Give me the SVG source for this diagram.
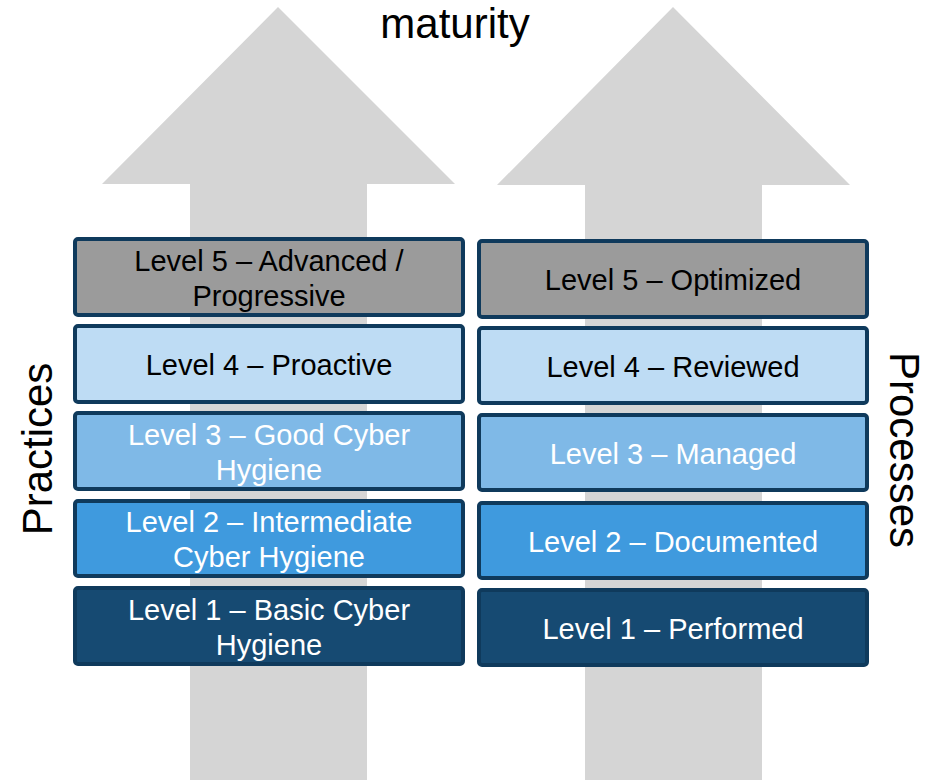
<svg xmlns="http://www.w3.org/2000/svg" width="932" height="780" viewBox="0 0 932 780">
<style>
.arrow{fill:#d5d5d5}
.box{stroke:#0f3a5c;stroke-width:4}
.l5{fill:#9b9b9b}.l4{fill:#bedcf4}.l3{fill:#7fb9e7}.l2{fill:#3f9ade}.l1{fill:#164a72}
text{font-family:"Liberation Sans",Arial,sans-serif;text-anchor:middle}
.t{font-size:29px}
.dk{fill:#000}.wt{fill:#fff}
.big{font-size:42px;fill:#000}
</style>
<rect width="932" height="780" fill="#fff"/>
<g id="arrows">
<polygon class="arrow" points="278,7 455,184 367,184 367,780 190,780 190,184 102,184"/>
<polygon class="arrow" points="673,7 850,185 762,185 762,780 585,780 585,185 497,185"/>
</g>
<text class="big" x="455" y="38">maturity</text>
<text class="big" transform="translate(52,449) rotate(-90)">Practices</text>
<text class="big" transform="translate(890,450) rotate(90)">Processes</text>
<g id="p5"><rect class="box l5" x="75" y="239" width="388" height="76" rx="3"/>
<text class="t dk" x="269" y="271">Level 5 – Advanced /</text><text class="t dk" x="269" y="306">Progressive</text></g>
<g id="p4"><rect class="box l4" x="75" y="326" width="388" height="76" rx="3"/>
<text class="t dk" x="269" y="375">Level 4 – Proactive</text></g>
<g id="p3"><rect class="box l3" x="75" y="413" width="388" height="76" rx="3"/>
<text class="t wt" x="269" y="445">Level 3 – Good Cyber</text><text class="t wt" x="269" y="480">Hygiene</text></g>
<g id="p2"><rect class="box l2" x="75" y="501" width="388" height="75" rx="3"/>
<text class="t wt" x="269" y="532">Level 2 – Intermediate</text><text class="t wt" x="269" y="567">Cyber Hygiene</text></g>
<g id="p1"><rect class="box l1" x="75" y="588" width="388" height="76" rx="3"/>
<text class="t wt" x="269" y="620">Level 1 – Basic Cyber</text><text class="t wt" x="269" y="655">Hygiene</text></g>
<g id="r5"><rect class="box l5" x="479" y="241" width="388" height="76" rx="3"/>
<text class="t dk" x="673" y="290">Level 5 – Optimized</text></g>
<g id="r4"><rect class="box l4" x="479" y="328" width="388" height="75" rx="3"/>
<text class="t dk" x="673" y="377">Level 4 – Reviewed</text></g>
<g id="r3"><rect class="box l3" x="479" y="415" width="388" height="75" rx="3"/>
<text class="t wt" x="673" y="464">Level 3 – Managed</text></g>
<g id="r2"><rect class="box l2" x="479" y="503" width="388" height="75" rx="3"/>
<text class="t wt" x="673" y="552">Level 2 – Documented</text></g>
<g id="r1"><rect class="box l1" x="479" y="590" width="388" height="75" rx="3"/>
<text class="t wt" x="673" y="639">Level 1 – Performed</text></g>
<g id="connectors"></g>
</svg>
